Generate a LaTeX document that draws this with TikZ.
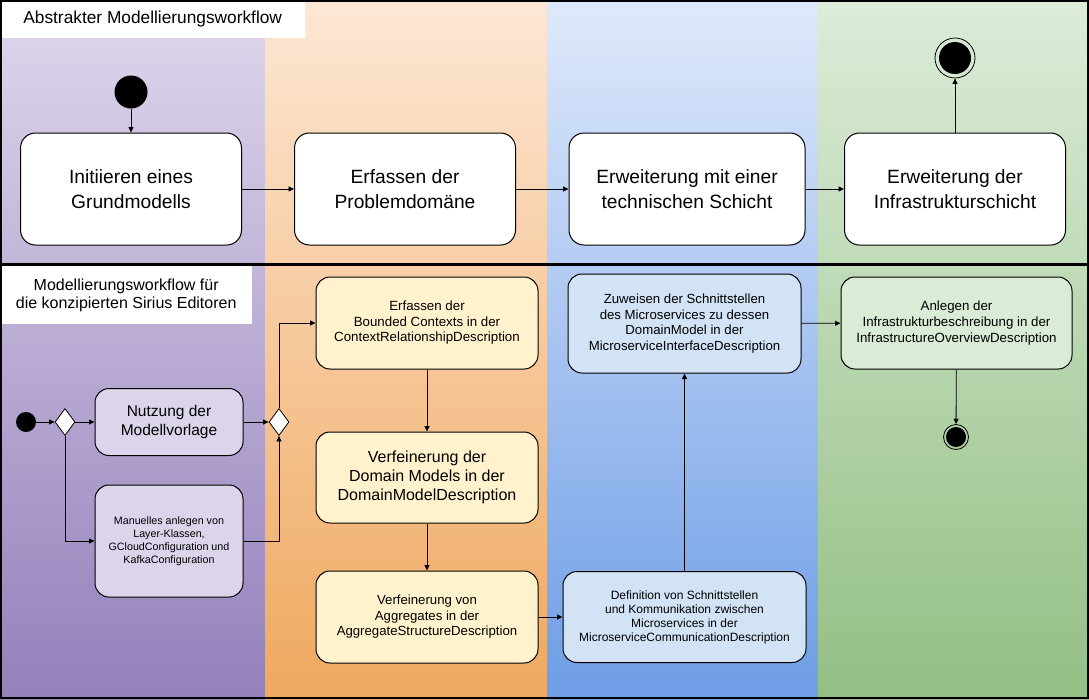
\documentclass[tikz,border=0pt]{standalone}
\usepackage{fontspec}
\setmainfont{Liberation Sans}
\usetikzlibrary{arrows.meta,shapes.geometric}
\definecolor{c1top}{HTML}{DFD7EC}
\definecolor{c1bot}{HTML}{9480BB}
\definecolor{c2top}{HTML}{FDE7D5}
\definecolor{c2bot}{HTML}{EFA85E}
\definecolor{c3top}{HTML}{DFE9FB}
\definecolor{c3bot}{HTML}{6D9DE6}
\definecolor{c4top}{HTML}{DCECD8}
\definecolor{c4bot}{HTML}{93BF84}
\definecolor{lav}{HTML}{DCD4EA}
\definecolor{yel}{HTML}{FFF2CC}
\definecolor{bluebox}{HTML}{D2E3F5}
\definecolor{greenbox}{HTML}{DAEBD6}
\begin{document}
\begin{tikzpicture}[x=1pt,y=-1pt,
  topbox/.style={draw=black, line width=1pt, rounded corners=15pt, fill=white, minimum width=221pt, minimum height=112pt, align=center, inner sep=0pt, font=\fontsize{19.2}{24.5}\selectfont},
  subbox/.style={draw=black, line width=1pt, rounded corners=14pt, align=center, inner sep=0pt},
  conn/.style={draw=black, line width=0.8pt, -{Triangle[length=5.5pt,width=5pt]}},
  ttl/.style={fill=white, align=center, inner sep=0pt},
  dec/.style={diamond, draw=black, line width=0.8pt, fill=white, inner sep=0pt, minimum width=20pt, minimum height=27pt},
  startdot/.style={circle, fill=black, inner sep=0pt},
  enddot/.style={circle, draw=black, line width=0.8pt, inner sep=0pt},
]
\useasboundingbox (0,0) rectangle (1089,699);
\shade[top color=c1top, bottom color=c1bot] (0,0) rectangle (265,699);
\shade[top color=c2top, bottom color=c2bot] (265,0) rectangle (547,699);
\shade[top color=c3top, bottom color=c3bot] (547,0) rectangle (818,699);
\shade[top color=c4top, bottom color=c4bot] (818,0) rectangle (1089,699);

% titles
\node[ttl, minimum width=305pt, minimum height=38pt, anchor=north west, font=\fontsize{17.3}{19}\selectfont] (t1) at (0,0) {Abstrakter Modellierungsworkflow};
\node[ttl, minimum width=252pt, minimum height=58pt, anchor=north west, font=\fontsize{16}{18.5}\selectfont] (t2) at (0,266) {Modellierungsworkflow für\\die konzipierten Sirius Editoren};

% separator
\draw[line width=3pt] (0,264) -- (1089,264);

% top row
\node[startdot, minimum size=33pt] (s1) at (131,92) {};
\node[topbox] (a1) at (131,189) {Initiieren eines\\Grundmodells};
\node[topbox] (a2) at (405,189) {Erfassen der\\Problemdomäne};
\node[topbox, minimum width=236pt] (a3) at (687,189) {Erweiterung mit einer\\technischen Schicht};
\node[topbox] (a4) at (955,189) {Erweiterung der\\Infrastrukturschicht};
\node[enddot, minimum size=40pt] (e1) at (955,58) {};
\fill (e1.center) circle (16);
\draw[conn] (s1) -- (a1);
\draw[conn] (a1) -- (a2);
\draw[conn] (a2) -- (a3);
\draw[conn] (a3) -- (a4);
\draw[conn] (a4) -- (e1);

% bottom: purple lane
\node[startdot, minimum size=20pt] (s2) at (26,422) {};
\node[dec] (d1) at (65,422) {};
\node[subbox, fill=lav, minimum width=148pt, minimum height=67pt, font=\fontsize{15.5}{18.5}\selectfont] (n1) at (169,422) {Nutzung der\\Modellvorlage};
\node[subbox, fill=lav, minimum width=148pt, minimum height=112pt, font=\fontsize{10.7}{13}\selectfont] (n2) at (169,541) {Manuelles anlegen von\\Layer-Klassen,\\GCloudConfiguration und\\KafkaConfiguration};
\node[dec] (d2) at (279,422) {};
\draw[conn] (s2) -- (d1);
\draw[conn] (d1) -- (n1);
\draw[conn] (d1.south) |- (n2.west);
\draw[conn] (n1) -- (d2);
\draw[conn] (n2.east) -| (d2.south);

% orange lane
\node[subbox, fill=yel, minimum width=222pt, minimum height=92pt, font=\fontsize{13.3}{15.5}\selectfont] (o1) at (427,323) {Erfassen der\\Bounded Contexts in der\\ContextRelationshipDescription};
\node[subbox, fill=yel, minimum width=222pt, minimum height=91pt, font=\fontsize{16}{19}\selectfont] (o2) at (427,477.5) {Verfeinerung der\\Domain Models in der\\DomainModelDescription};
\node[subbox, fill=yel, minimum width=222pt, minimum height=92pt, font=\fontsize{13.2}{15.5}\selectfont] (o3) at (427,617) {Verfeinerung von\\Aggregates in der\\AggregateStructureDescription};
\draw[conn] (d2.north) |- (o1.west);
\draw[conn] (o1) -- (o2);
\draw[conn] (o2) -- (o3);

% blue lane
\node[subbox, fill=bluebox, minimum width=243pt, minimum height=91pt, font=\fontsize{12}{14}\selectfont] (b1) at (684.5,617) {Definition von Schnittstellen\\und Kommunikation zwischen\\Microservices in der\\MicroserviceCommunicationDescription};
\node[subbox, fill=bluebox, minimum width=233pt, minimum height=99pt, font=\fontsize{13.2}{15.7}\selectfont] (b2) at (684.5,323.5) {Zuweisen der Schnittstellen\\des Microservices zu dessen\\DomainModel in der\\MicroserviceInterfaceDescription};
\draw[conn] (o3) -- (b1);
\draw[conn] (b1) -- (b2);

% green lane
\node[subbox, fill=greenbox, minimum width=231pt, minimum height=92pt, font=\fontsize{13.3}{16}\selectfont] (g1) at (956.5,323) {Anlegen der\\Infrastrukturbeschreibung in der\\InfrastructureOverviewDescription};
\node[enddot, minimum size=25pt] (e2) at (956,437) {};
\fill (e2.center) circle (10);
\draw[conn] (b2) -- (g1);
\draw[conn] (g1) -- (e2);

% outer border
\draw[line width=2pt] (1,1) rectangle (1088,698);
\end{tikzpicture}
\end{document}
